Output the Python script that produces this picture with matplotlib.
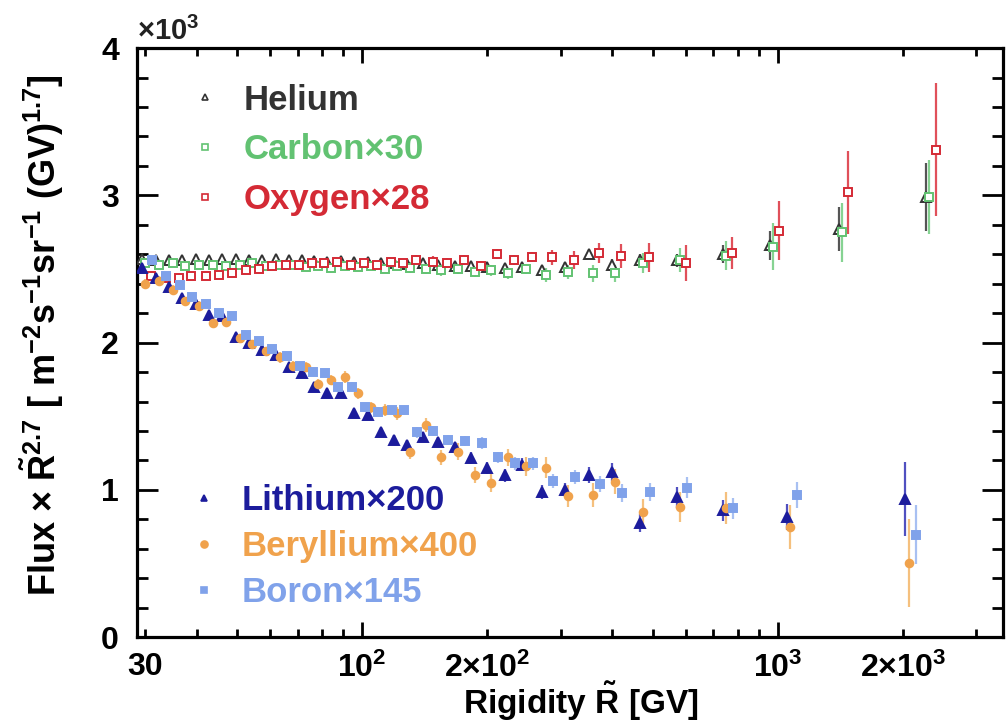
import matplotlib
matplotlib.use('Agg')
import matplotlib.pyplot as plt
from matplotlib.ticker import FixedLocator, FuncFormatter, MultipleLocator
from matplotlib.lines import Line2D

# --- data ---
R_light = [29.5, 31.9, 34.3, 36.8, 39.8, 42.8, 46.0, 49.7, 53.4, 57.4, 62.1, 66.7,
           71.7, 76.6, 82.4, 89.0, 95.7, 103, 111, 119, 128, 140, 152, 167, 183, 200,
           220, 243, 271, 307, 352, 398, 465, 571, 736, 1051, 2023]
lithium = [2510, 2440, 2380, 2300, 2265, 2190, 2180, 2040, 2000, 1950, 1915, 1835,
           1795, 1700, 1660, 1655, 1520, 1510, 1390, 1340, 1305, 1360, 1325, 1290, 1215,
           1150, 1100, 1170, 985, 1000, 1100, 1120, 775, 950, 860, 815, 940]
lithium_err = [25, 25, 25, 25, 25, 25, 25, 25, 25, 25, 25, 25, 25, 25, 25, 30, 30, 30,
               30, 30, 35, 35, 35, 35, 40, 40, 45, 45, 50, 50, 55, 60, 60, 70, 70, 90, 250]
beryllium = [2400, 2420, 2360, 2280, 2250, 2130, 2140, 2030, 1990, 1940, 1900, 1840,
             1835, 1720, 1745, 1765, 1655, 1560, 1540, 1520, 1255, 1440, 1220, 1260, 1100,
             1045, 1220, 1160, 1150, 960, 965, 1055, 850, 885, 875, 750, 505]
beryllium_err = [30, 30, 30, 30, 30, 30, 30, 30, 30, 30, 35, 35, 35, 35, 35, 40, 40, 40,
                 40, 45, 45, 50, 50, 55, 55, 60, 60, 65, 70, 75, 80, 85, 90, 100, 110, 150, 300]
boron = [2560, 2450, 2390, 2310, 2260, 2200, 2180, 2050, 2010, 1960, 1910, 1840,
         1800, 1795, 1700, 1700, 1560, 1530, 1540, 1540, 1390, 1400, 1340, 1330, 1320,
         1220, 1180, 1180, 1060, 1087, 1040, 980, 985, 1015, 875, 965, 695]
boron_err = [25, 25, 25, 25, 25, 25, 25, 25, 25, 25, 25, 25, 25, 25, 25, 30, 30, 30,
             30, 30, 35, 35, 35, 35, 40, 40, 45, 45, 50, 50, 55, 60, 60, 70, 70, 90, 200]

R_heavy = [29.5, 31.9, 34.3, 36.8, 39.8, 42.8, 46.0, 49.7, 53.4, 57.4, 62.1, 66.7,
           71.7, 76.6, 82.4, 89.0, 95.7, 103, 111, 119, 128, 140, 152, 167, 183, 200,
           220, 243, 271, 307, 352, 398, 465, 571, 736, 955, 1400, 2270]
helium = [2570, 2560, 2560, 2560, 2565, 2560, 2565, 2570, 2560, 2560, 2565, 2560,
          2560, 2555, 2550, 2555, 2550, 2545, 2540, 2540, 2535, 2540, 2530, 2520, 2520,
          2515, 2510, 2515, 2495, 2515, 2600, 2530, 2560, 2560, 2600, 2660, 2770, 2990]
helium_err = [15, 15, 15, 15, 15, 15, 15, 15, 15, 15, 15, 15, 15, 15, 15, 15, 15, 15,
              15, 15, 20, 20, 20, 20, 20, 20, 20, 20, 25, 30, 30, 35, 40, 45, 60, 100, 150, 230]
carbon = [2540, 2530, 2540, 2520, 2530, 2530, 2520, 2530, 2540, 2520, 2530, 2525,
          2515, 2520, 2510, 2520, 2515, 2520, 2500, 2520, 2510, 2500, 2490, 2500, 2480,
          2490, 2470, 2500, 2460, 2480, 2470, 2470, 2540, 2560, 2590, 2650, 2750, 2990]
carbon_err = [25, 25, 25, 25, 25, 25, 25, 25, 25, 25, 25, 25, 25, 25, 25, 25, 25, 25,
              25, 25, 35, 35, 35, 35, 35, 35, 35, 35, 45, 50, 55, 60, 70, 80, 100, 160, 200, 250]
oxygen = [2450, 2440, 2440, 2450, 2450, 2460, 2470, 2490, 2500, 2520, 2530, 2530,
          2540, 2540, 2550, 2530, 2540, 2530, 2550, 2540, 2560, 2550, 2540, 2560, 2520,
          2600, 2560, 2580, 2580, 2560, 2610, 2590, 2580, 2540, 2610, 2760, 3020, 3310]
oxygen_err = [25, 25, 25, 25, 25, 25, 25, 25, 25, 25, 25, 25, 25, 25, 25, 25, 25, 25,
              25, 25, 35, 35, 35, 35, 35, 35, 35, 35, 50, 60, 70, 80, 100, 120, 110, 200, 280, 450]

# --- style ---
plt.rcParams['font.family'] = ['Liberation Sans', 'DejaVu Sans']
plt.rcParams['font.weight'] = 'bold'
plt.rcParams['mathtext.fontset'] = 'custom'
plt.rcParams['mathtext.rm'] = 'Liberation Sans:bold'
plt.rcParams['mathtext.it'] = 'Liberation Sans:bold'
plt.rcParams['mathtext.bf'] = 'Liberation Sans:bold'

fig = plt.figure(figsize=(10.06, 7.24), dpi=100)
ax = fig.add_axes([0.136, 0.120, 0.861, 0.8135])

# name, R, values, errors, x-shift, marker, colour, filled, error colour
series = [
    ('Helium', R_heavy, helium, helium_err, 1.00, '^', '#333333', False, '#555555'),
    ('Carbon\u00d730', R_heavy, carbon, carbon_err, 1.02, 's', '#62c272', False, '#86d392'),
    ('Oxygen\u00d728', R_heavy, oxygen, oxygen_err, 1.055, 's', '#d42a35', False, '#e0505a'),
    ('Lithium\u00d7200', R_light, lithium, lithium_err, 1.00, '^', '#1c1c9c', True, '#5050c0'),
    ('Beryllium\u00d7400', R_light, beryllium, beryllium_err, 1.02, 'o', '#f0a24c', True, '#f5c07e'),
    ('Boron\u00d7145', R_light, boron, boron_err, 1.06, 's', '#80a2ea', True, '#a8c0f2'),
]

handles = []
for name, R, vals, errs, shift, mk, col, filled, ecol in series:
    x = [r * shift for r in R]
    ax.errorbar(x, vals, yerr=errs, fmt=mk, ms=6.5 if mk == '^' else 5.5,
                mfc=col if filled else 'white', mec=col, mew=1.4,
                ecolor=ecol, elinewidth=1.6, capsize=0, zorder=3)
    handles.append(Line2D([], [], ls='none', marker=mk, ms=5,
                          mfc=col if filled else 'white', mec=col, mew=1.2, label=name))

leg_kw = dict(frameon=False, fontsize=25, handlelength=0.8, handletextpad=0.7,
              borderaxespad=0, labelcolor='markeredgecolor')
leg1 = ax.legend(handles=handles[:3], loc='upper left', bbox_to_anchor=(0.047, 0.9635),
                 labelspacing=0.48, **leg_kw)
ax.add_artist(leg1)
ax.legend(handles=handles[3:], loc='upper left', bbox_to_anchor=(0.045, 0.284),
          labelspacing=0.38, **leg_kw)

ax.set_xscale('log')
ax.set_xlim(28.7, 3480)
ax.set_ylim(0, 4000)

ax.xaxis.set_major_locator(FixedLocator([100, 1000]))
ax.xaxis.set_minor_locator(FixedLocator([30, 40, 50, 60, 70, 80, 90, 200, 300, 400, 500,
                                         600, 700, 800, 900, 2000, 3000]))
major_lab = {100: r'$10^{2}$', 1000: r'$10^{3}$'}
minor_lab = {30: '30', 200: r'$2{\times}10^{2}$', 2000: r'$2{\times}10^{3}$'}
ax.xaxis.set_major_formatter(FuncFormatter(lambda v, p: major_lab.get(int(round(v)), '')))
ax.xaxis.set_minor_formatter(FuncFormatter(lambda v, p: minor_lab.get(int(round(v)), '')))

ax.yaxis.set_major_locator(MultipleLocator(1000))
ax.yaxis.set_minor_locator(MultipleLocator(200))
ax.yaxis.set_major_formatter(FuncFormatter(lambda v, p: f'{v / 1000:g}'))

ax.tick_params(axis='both', which='both', direction='in', top=True, right=True,
               width=2.0, labelsize=23)
ax.tick_params(axis='x', which='major', length=11, pad=11)
ax.tick_params(axis='x', which='minor', length=5.5, pad=11)
ax.tick_params(axis='y', which='major', length=15, pad=13)
ax.tick_params(axis='y', which='minor', length=8)
for s in ax.spines.values():
    s.set_linewidth(2.3)

ax.text(0.0, 1.004, r'$\times10^{3}$', transform=ax.transAxes, ha='left', va='bottom',
        fontsize=21, color='#222222')

fig.text(0.694, 0.031, r'Rigidity $\tilde{R}$ [GV]', ha='right', va='center', fontsize=24)
fig.text(0.042, 0.897,
         r'Flux $\times$ $\tilde{R}^{2.7}$ [ m$^{-2}$s$^{-1}$sr$^{-1}$ (GV)$^{1.7}$]',
         rotation=90, ha='center', va='top', fontsize=26)

fig.savefig('out.png', dpi=100)
